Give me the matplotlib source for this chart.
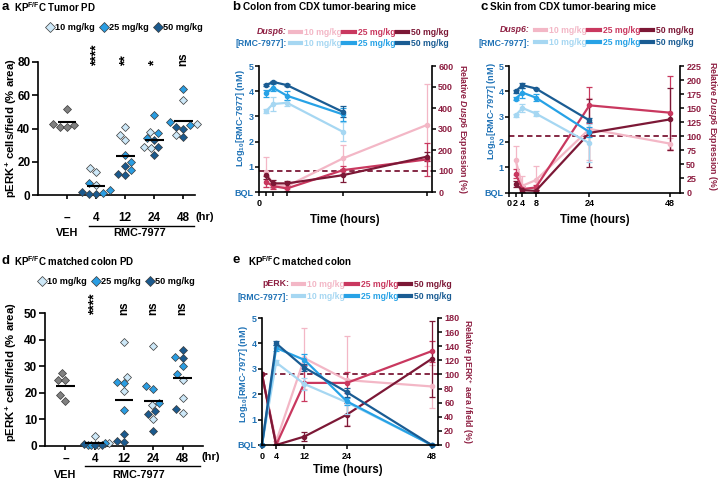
import numpy as np
import matplotlib
matplotlib.use('Agg')
import matplotlib.pyplot as plt
from matplotlib.lines import Line2D
import matplotlib.transforms as mtrans

# ------------------------------------------------------------------ data
cat_labels = ['–', '4', '12', '24', '48']
dose_labels = ['10 mg/kg', '25 mg/kg', '50 mg/kg']

# panel a: KPF/FC tumor PD (pERK+ % area), per time point 4/12/24/48 h
a_veh = [52, 43, 41, 41, 42]
a_10 = [[16, 14, 6], [41, 36, 33], [38, 29, 28], [57, 43, 36]]
a_25 = [[7, 3, 1], [24, 20, 15], [48, 37, 34], [64, 42, 44]]
a_50 = [[2, 0.5, 0.5], [17.5, 12, 12.7], [29, 24, 33], [40, 41, 35]]
a_sig = ['****', '**', '*', 'ns']

# panel d: KPF/FC matched colon PD
d_veh = [27.5, 25, 25, 19, 17]
d_10 = [[3.8, 1, 0.5], [39, 26, 20.5], [37.5, 15.5, 10], [25, 18, 12.5]]
d_25 = [[1, 0.5, 0.3], [23.5, 24, 13.5], [21.5, 22.5, 16], [33.5, 30, 27]]
d_50 = [[0.5, 0.3, 0.8], [4.5, 1.5, 2], [12, 13, 5.5], [33, 36, 14]]
d_sig = ['****', 'ns', 'ns', 'ns']

# panel b: colon from CDX tumor-bearing mice
b_conc_t = [2, 4, 8, 24]
b_conc_10 = [3.21, 3.49, 3.54, 2.39]
b_conc_10_err = [0.08, 0.27, 0.12, 0.38]
b_conc_25 = [3.91, 4.14, 3.82, 3.08]
b_conc_25_err = [0.15, 0.15, 0.17, 0.25]
b_conc_50 = [4.24, 4.37, 4.24, 3.18]
b_conc_50_err = [0.05, 0.05, 0.05, 0.22]
b_dusp_t = [2, 4, 8, 24, 48]
b_dusp_10 = [96, 33, 28, 160, 319]
b_dusp_10_err = [70, 15, 15, 65, 195]
b_dusp_25 = [49, 28, 17, 104, 155]
b_dusp_25_err = [25, 15, 10, 20, 80]
b_dusp_50 = [80, 41, 41, 80, 168]
b_dusp_50_err = [20, 15, 10, 30, 22]

# panel c: skin from CDX tumor-bearing mice
c_conc_t = [2, 4, 8, 24]
c_conc_10 = [3.05, 3.34, 3.12, 1.95]
c_conc_10_err = [0.05, 0.15, 0.1, 0.75]
c_conc_25 = [3.71, 3.95, 3.75, 2.39]
c_conc_25_err = [0.05, 0.2, 0.15, 0.2]
c_conc_50 = [4.0, 4.24, 4.11, 2.85]
c_conc_50_err = [0.05, 0.1, 0.03, 0.08]
c_dusp_t = [2, 4, 8, 24, 48]
c_dusp_10 = [57, 12, 22, 113, 87]
c_dusp_10_err = [25, 18, 25, 55, 10]
c_dusp_25 = [33, 6, 9, 155, 142]
c_dusp_25_err = [8, 5, 5, 32, 66]
c_dusp_50 = [15, 4, 3, 106, 130]
c_dusp_50_err = [5, 3, 2, 60, 55]

# panel e: KPF/FC matched colon
e_t = [0, 4, 12, 24, 48]
e_conc_10 = [0, 3.25, 2.4, 1.68, 0]
e_conc_10_err = [0, 0.1, 0.25, 0.45, 0]
e_conc_25 = [0, 3.82, 3.35, 1.72, 0]
e_conc_25_err = [0, 0.12, 0.25, 0.15, 0]
e_conc_50 = [0, 4.0, 3.05, 2.08, 0]
e_conc_50_err = [0, 0.08, 0.15, 0.18, 0]
e_perk_10 = [100, 5, 123, 92, 83]
e_perk_10_err = [0, 0, 43, 63, 30]
e_perk_25 = [100, 0, 88, 88, 133]
e_perk_25_err = [0, 0, 25, 15, 15]
e_perk_50 = [100, 0, 12, 43, 122]
e_perk_50_err = [0, 0, 7, 16, 54]

# ------------------------------------------------------------------ style
plt.rcParams.update({
    'font.family': ['Liberation Sans', 'DejaVu Sans'],
    'font.weight': 'bold',
    'axes.labelweight': 'bold',
    'mathtext.fontset': 'custom',
    'mathtext.rm': 'Liberation Sans:bold',
    'mathtext.bf': 'Liberation Sans:bold',
    'mathtext.it': 'Liberation Sans:italic:bold',
    'axes.linewidth': 1.2,
})

LB, MB, DB = '#a6d7f2', '#27a2e6', '#1a5c93'
PK, MR, DR = '#f3b7c6', '#c9385f', '#7c1836'
BLUE_TXT, RED_TXT = '#1f72b6', '#8e1f42'
GRAY = '#808080'
DIAMS = ['#cde8f8', '#2a9de2', '#1b5a8e']
EDGE = '#3a3a3a'
BLUE_SERIES = [LB, MB, DB]
RED_SERIES = [PK, MR, DR]

W, H = 720, 488
fig = plt.figure(figsize=(7.2, 4.88), dpi=100)


def add_ax(l, t, r, b):
    return fig.add_axes([l / W, 1 - b / H, (r - l) / W, (b - t) / H])


def ftext(x, y, s, **kw):
    kw.setdefault('fontweight', 'bold')
    return fig.text(x / W, 1 - y / H, s, **kw)


def swarm(ys, D, cap):
    order = np.argsort(ys)
    xs = np.zeros(len(ys))
    placed = []
    for i in order:
        y = ys[i]
        forb = []
        for xp, yp in placed:
            dy = abs(y - yp)
            if dy < D:
                w = np.sqrt(D * D - dy * dy)
                forb.append((xp - w, xp + w))
        cands = sorted([0.0] + [a for a, _ in forb] + [b for _, b in forb], key=abs)
        for c in cands:
            if all(not (a + 1e-6 < c < b - 1e-6) for a, b in forb):
                xs[i] = c
                break
        placed.append((xs[i], y))
    m = np.max(np.abs(xs))
    if m > cap:
        xs *= cap / m
    return xs


def scatter_panel(box, xlim, ylim, yticks, veh, g10, g25, g50, sig, sig_y,
                  tick_pad, line_y, under_y, line_x, hr_x, ticklab_y):
    l, t, r, b = box
    ax = add_ax(l, t, r, b)
    ax.set_xlim(*xlim)
    ax.set_ylim(*ylim)
    ppx = (r - l) / (xlim[1] - xlim[0])
    ppy = (b - t) / (ylim[1] - ylim[0])
    groups = [[(v, GRAY) for v in veh]]
    for i in range(4):
        pts = [(v, DIAMS[0]) for v in g10[i]] + [(v, DIAMS[1]) for v in g25[i]] + \
              [(v, DIAMS[2]) for v in g50[i]]
        groups.append(pts)
    for gi, pts in enumerate(groups):
        vals = np.array([p[0] for p in pts])
        offs = swarm(vals * ppy, 7.5, 14.0)
        for (v, c), o in zip(pts, offs):
            ax.plot(gi + o / ppx, v, marker='D', ms=4.3, mfc=c, mec=EDGE, mew=0.5,
                    ls='', zorder=3, clip_on=False)
        m = vals.mean()
        ax.plot([gi - 0.32, gi + 0.32], [m, m], color='k', lw=1.5, zorder=4,
                solid_capstyle='butt')
    for sp in ['top', 'right']:
        ax.spines[sp].set_visible(False)
    ax.set_yticks(yticks)
    ax.set_xticks(range(5))
    ax.set_xticklabels(cat_labels)
    ax.tick_params(axis='y', length=4, width=1.2, labelsize=8.5, pad=1.5)
    ax.tick_params(axis='x', length=3, width=1.2, labelsize=8.5, pad=tick_pad)
    for i, s in enumerate(sig):
        ax.text(i + 1, ylim[0] + (b - sig_y) / ppy, s, rotation=90, ha='center',
                va='bottom', fontsize=10 if '*' in s else 8.5, fontweight='bold',
                clip_on=False)
    trans = mtrans.blended_transform_factory(ax.transData, fig.transFigure)
    ax.plot(line_x, [1 - line_y / H] * 2, transform=trans, color='k', lw=1,
            clip_on=False)
    ax.text(0, 1 - under_y / H, 'VEH', transform=trans, ha='center', va='center',
            fontsize=7.8, fontweight='bold')
    ax.text(2.5, 1 - under_y / H, 'RMC-7977', transform=trans, ha='center',
            va='center', fontsize=7.8, fontweight='bold')
    ax.text(hr_x, 1 - ticklab_y / H, '(hr)', transform=trans, ha='center',
            va='center', fontsize=8, fontweight='bold')
    return ax


def scatter_legend(cx, cy):
    handles = [Line2D([], [], marker='D', ls='', ms=4.6, mfc=c, mec=EDGE, mew=0.5)
               for c in DIAMS]
    fig.legend(handles, dose_labels, loc='center', bbox_to_anchor=(cx / W, 1 - cy / H),
               ncol=3, frameon=False, prop={'size': 6.6, 'weight': 'bold'},
               handletextpad=0.05, columnspacing=0.5, handlelength=1.0,
               borderpad=0, borderaxespad=0)


def line_panel(box, xlim, xticks, xtlabels, t_c, concs, cerrs, t_r, rels, rerrs,
               rlim, rticks):
    l, t, r, b = box
    ax = add_ax(l, t, r, b)
    ax2 = ax.twinx()
    ax.set_zorder(ax2.get_zorder() + 1)
    ax.patch.set_visible(False)
    ax.set_xlim(*xlim)
    ax.set_ylim(0, 5)
    ax2.set_ylim(*rlim)
    for vals, errs, c in zip(rels, rerrs, RED_SERIES):
        ax2.errorbar(t_r, vals, yerr=errs, color=c, lw=1.6, marker='o', ms=3,
                     capsize=2.2, elinewidth=0.9, capthick=0.9)
    ax2.axhline(100, color=DR, lw=1.3, ls=(0, (3, 2)))
    for vals, errs, c in zip(concs, cerrs, BLUE_SERIES):
        ax.errorbar(t_c, vals, yerr=errs, color=c, lw=1.6, marker='o', ms=3,
                    capsize=2.2, elinewidth=0.9, capthick=0.9, clip_on=False)
    ax.set_xticks(xticks)
    ax.set_xticklabels(xtlabels)
    ax.set_yticks(range(6))
    ax.set_yticklabels(['BQL', '1', '2', '3', '4', '5'])
    ax2.set_yticks(rticks)
    ax.spines['top'].set_visible(False)
    ax.spines['right'].set_visible(False)
    for sp in ['top', 'left', 'bottom']:
        ax2.spines[sp].set_visible(False)
    ax.tick_params(axis='y', labelcolor=BLUE_TXT, labelsize=6.5, length=3,
                   width=1.1, pad=1)
    ax.tick_params(axis='x', labelsize=6.5, length=3, width=1.1, pad=2)
    ax2.tick_params(axis='y', labelcolor=RED_TXT, labelsize=6.5, length=3,
                    width=1.1, pad=1.5)
    return ax, ax2


def line_legend(x_right, y1, y2, top_label, italic, handle_x):
    ftext(x_right, y1, top_label, ha='right', va='center', color=RED_TXT,
          fontsize=6.3, style='italic' if italic else 'normal')
    ftext(x_right, y2, '[RMC-7977]:', ha='right', va='center', color=BLUE_TXT,
          fontsize=6.3)
    handles, labels, colors = [], [], []
    for rc, bc, lab in zip(RED_SERIES, BLUE_SERIES, dose_labels):
        handles += [Line2D([], [], color=rc, lw=3), Line2D([], [], color=bc, lw=3)]
        labels += [lab, lab]
        colors += [rc, bc]
    leg = fig.legend(handles, labels, loc='center left',
                     bbox_to_anchor=(handle_x / W, 1 - ((y1 + y2) / 2) / H),
                     ncol=3, frameon=False, fontsize=6.2, handlelength=1.3,
                     handletextpad=0.35, columnspacing=0.15, labelspacing=0.32,
                     borderpad=0, borderaxespad=0)
    for txt, c in zip(leg.get_texts(), colors):
        txt.set_color(c)


ylab_scatter = r'pERK$^{\mathrm{+}}$ cells/field (% area)'
conc_label = r'Log$_{\mathrm{10}}$[RMC-7977] (nM)'
dusp_label = r'Relative $\mathit{Dusp6}$ Expression (%)'
perk_label = r'Relative pERK$^{\mathrm{+}}$ aera /field (%)'

# ------------------------------------------------------------------ panel a
ftext(2, 7, 'a', fontsize=9.5, ha='left', va='center')
ftext(14, 7, r'KP$^{\mathrm{F/F}}$C Tumor PD', fontsize=7, ha='left', va='center')
scatter_legend(124, 28)
scatter_panel((38, 62, 195, 195), (-1, 4.4), (0, 80), [0, 20, 40, 60, 80],
              a_veh, a_10, a_25, a_50, a_sig, 66, 9, 226, 233, [0.75, 4.35], 4.75, 217)
ftext(11, 128, ylab_scatter, rotation=90, ha='center', va='center', fontsize=8.2)

# ------------------------------------------------------------------ panel d
ftext(2, 261, 'd', fontsize=9.5, ha='left', va='center')
ftext(14, 261, r'KP$^{\mathrm{F/F}}$C matched colon PD', fontsize=7, ha='left',
      va='center')
scatter_legend(116, 282)
scatter_panel((45, 313, 203, 446), (-0.7, 4.7), (0, 50), [0, 10, 20, 30, 40, 50],
              d_veh, d_10, d_25, d_50, d_sig, 315, 2, 466, 475, [0.65, 4.6], 4.95, 457)
ftext(11, 372, ylab_scatter, rotation=90, ha='center', va='center', fontsize=8.2)

# ------------------------------------------------------------------ panel b
ftext(232, 7, 'b', fontsize=9.5, ha='left', va='center')
ftext(243, 7, 'Colon from CDX tumor-bearing mice', fontsize=7.2, ha='left',
      va='center')
line_legend(287, 32, 44, 'Dusp6:', True, 290)
line_panel((259, 66, 432, 192), (0, 49.5), [0, 2, 4, 8, 24, 48],
           ['0', '', '', '', '', ''], b_conc_t,
           [b_conc_10, b_conc_25, b_conc_50],
           [b_conc_10_err, b_conc_25_err, b_conc_50_err], b_dusp_t,
           [b_dusp_10, b_dusp_25, b_dusp_50],
           [b_dusp_10_err, b_dusp_25_err, b_dusp_50_err], (0, 600),
           [0, 100, 200, 300, 400, 500, 600])
ftext(345, 220, 'Time (hours)', ha='center', va='center', fontsize=8.3)
ftext(241, 118, conc_label, rotation=90, ha='center', va='center', fontsize=6.6,
      color=BLUE_TXT)
ftext(462, 129, dusp_label, rotation=270, ha='center', va='center', fontsize=6.3,
      color=RED_TXT)

# ------------------------------------------------------------------ panel c
ftext(481, 7, 'c', fontsize=9.5, ha='left', va='center')
ftext(490, 7, 'Skin from CDX tumor-bearing mice', fontsize=7.2, ha='left',
      va='center')
line_legend(530, 30, 43, 'Dusp6:', True, 535)
line_panel((509, 66, 680, 192.5), (0, 51), [0, 2, 4, 8, 24, 48],
           ['0', '2', '4', '8', '24', '48'], c_conc_t,
           [c_conc_10, c_conc_25, c_conc_50],
           [c_conc_10_err, c_conc_25_err, c_conc_50_err], c_dusp_t,
           [c_dusp_10, c_dusp_25, c_dusp_50],
           [c_dusp_10_err, c_dusp_25_err, c_dusp_50_err], (0, 225),
           [0, 25, 50, 75, 100, 125, 150, 175, 200, 225])
ftext(595, 220, 'Time (hours)', ha='center', va='center', fontsize=8.3)
ftext(491, 111, conc_label, rotation=90, ha='center', va='center', fontsize=6.6,
      color=BLUE_TXT)
ftext(712, 126, dusp_label, rotation=270, ha='center', va='center', fontsize=6.3,
      color=RED_TXT)

# ------------------------------------------------------------------ panel e
ftext(232, 260, 'e', fontsize=9.5, ha='left', va='center')
ftext(248, 261, r'KP$^{\mathrm{F/F}}$C matched colon', fontsize=7, ha='left',
      va='center')
line_legend(289, 284, 297, 'pERK:', False, 293)
line_panel((262, 318, 438, 445), (0, 49.8), [0, 4, 12, 24, 48],
           ['0', '4', '12', '24', '48'], e_t,
           [e_conc_10, e_conc_25, e_conc_50],
           [e_conc_10_err, e_conc_25_err, e_conc_50_err], e_t,
           [e_perk_10, e_perk_25, e_perk_50],
           [e_perk_10_err, e_perk_25_err, e_perk_50_err], (0, 180),
           list(range(0, 181, 20)))
ftext(348, 470, 'Time (hours)', ha='center', va='center', fontsize=8.3)
ftext(243, 374, conc_label, rotation=90, ha='center', va='center', fontsize=6.6,
      color=BLUE_TXT)
ftext(467, 381, perk_label, rotation=270, ha='center', va='center', fontsize=6.3,
      color=RED_TXT)

fig.savefig('out.png', dpi=100)
